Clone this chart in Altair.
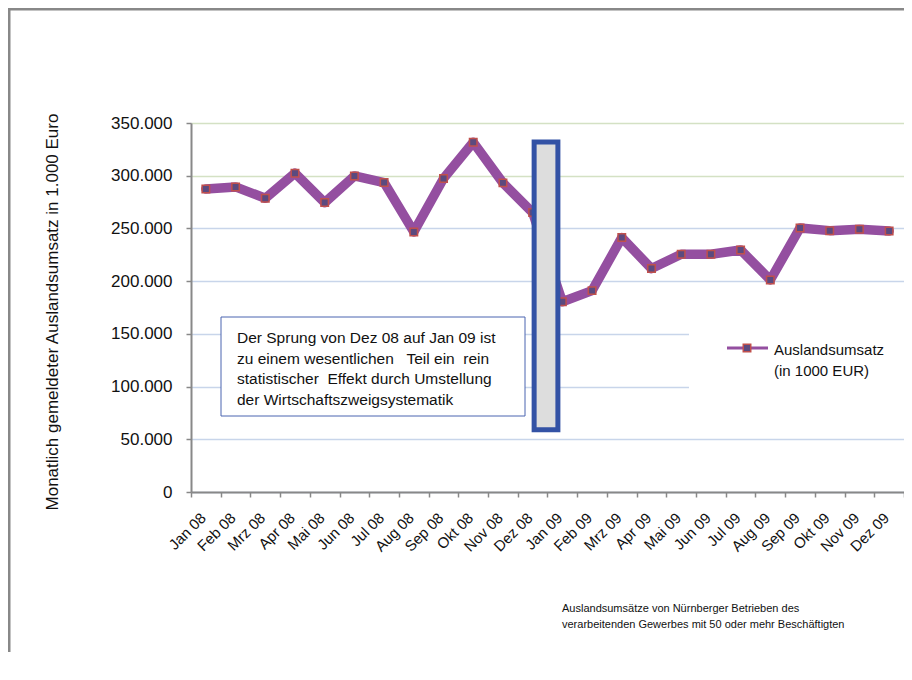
import altair as alt
import pandas as pd

months = ["Jan 08", "Feb 08", "Mrz 08", "Apr 08", "Mai 08", "Jun 08", "Jul 08", "Aug 08",
          "Sep 08", "Okt 08", "Nov 08", "Dez 08", "Jan 09", "Feb 09", "Mrz 09", "Apr 09",
          "Mai 09", "Jun 09", "Jul 09", "Aug 09", "Sep 09", "Okt 09", "Nov 09", "Dez 09"]
values = [287500, 289400, 278600, 302400, 274500, 299800, 293500, 246700,
          297300, 331800, 293200, 265000, 180500, 191000, 241300, 211900,
          225500, 225500, 229600, 201100, 250500, 247900, 249200, 247600]

box_months = ["Dez 08", "Jan 09"]
box_values = [332000, 59000]

note_lines = ["Der Sprung von Dez 08 auf Jan 09 ist",
              "zu einem wesentlichen \u00a0 Teil ein \u00a0rein",
              "statistischer \u00a0Effekt durch Umstellung",
              "der Wirtschaftszweigsystematik"]
legend_lines = ["Auslandsumsatz", "(in 1000 EUR)"]
caption_lines = ["Auslandsumsätze von Nürnberger Betrieben des",
                 "verarbeitenden Gewerbes mit 50 oder mehr Beschäftigten"]
y_title = "Monatlich gemeldeter Auslandsumsatz in 1.000 Euro"

df = pd.DataFrame({"Monat": months, "Wert": values})
box_df = pd.DataFrame({"m1": [box_months[0]], "m2": [box_months[1]],
                       "v1": [box_values[0]], "v2": [box_values[1]]})
one = pd.DataFrame({"a": [0]})

W, H = 713, 369
FONT = "Liberation Sans"

xscale = alt.Scale(type="band", domain=months, paddingInner=0, paddingOuter=0)
yscale = alt.Scale(domain=[0, 350000], nice=False)

x_enc = alt.X("Monat:N", scale=xscale, sort=months, title=None,
              axis=alt.Axis(tickBand="extent", labelAngle=-45, labelAlign="right",
                            labelBaseline="top", labelFontSize=15, labelPadding=13,
                            labelOffset=-8,
                            labelColor="#111", domainColor="#888", domainWidth=2,
                            tickColor="#888", tickWidth=1.5, tickSize=5, grid=False,
                            labelFont=FONT))
y_enc = alt.Y("Wert:Q", scale=yscale, title=y_title,
              axis=alt.Axis(values=[0, 50000, 100000, 150000, 200000, 250000, 300000, 350000],
                            labelExpr="replace(format(datum.value, ','), ',', '.')",
                            labelFontSize=17, labelPadding=14, labelColor="#111",
                            domainColor="#888", domainWidth=2, tickColor="#888",
                            tickWidth=1.5, tickSize=5,
                            grid=True, gridWidth=1.5,
                            gridColor=alt.expr("datum.value >= 300000 ? '#d4e1c4' : '#c8d5ea'"),
                            titleFontSize=17, titleFontWeight="normal", titleColor="#111",
                            titleX=-139, titleY=H / 2 + 4, titleAngle=270,
                            titleAlign="center", titleBaseline="middle", titleFont=FONT,
                            labelFont=FONT))

# annotation boxes (white backgrounds)
note_box = alt.Chart(one).mark_rect(fill="white", stroke="#4a64b0", strokeWidth=1).encode(
    x=alt.value(30), x2=alt.value(334), y=alt.value(194), y2=alt.value(293))
legend_box = alt.Chart(one).mark_rect(fill="white").encode(
    x=alt.value(498), x2=alt.value(713), y=alt.value(195), y2=alt.value(280))

line = alt.Chart(df).mark_line(color="#944fa0", strokeWidth=9.5, strokeCap="round",
                               strokeJoin="round").encode(x=x_enc, y=y_enc)
pts = alt.Chart(df).mark_point(shape="square", filled=True, size=56, fill="#5b4a7f",
                               stroke="#c0504d", strokeWidth=1.5, opacity=1).encode(
    x=alt.X("Monat:N", scale=xscale, sort=months), y=alt.Y("Wert:Q", scale=yscale))

jump_box = alt.Chart(box_df).mark_rect(fill="#dddddd", stroke="#3352a5", strokeWidth=5).encode(
    x=alt.X("m1:N", scale=xscale, bandPosition=0.55),
    x2=alt.X2("m2", bandPosition=0.35),
    y=alt.Y("v1:Q", scale=yscale), y2="v2:Q")

note_text = alt.Chart(one).mark_text(text=note_lines, align="left", baseline="alphabetic",
                                     fontSize=15.5, lineHeight=20.5, font=FONT, color="#111").encode(
    x=alt.value(46), y=alt.value(220))

leg_rule = alt.Chart(one).mark_rule(color="#944fa0", strokeWidth=3).encode(
    x=alt.value(536), x2=alt.value(577), y=alt.value(225))
leg_pt = alt.Chart(one).mark_point(shape="square", filled=True, size=56, fill="#5b4a7f",
                                   stroke="#c0504d", strokeWidth=1.5, opacity=1).encode(
    x=alt.value(556), y=alt.value(225))
leg_text = alt.Chart(one).mark_text(text=legend_lines, align="left", baseline="alphabetic",
                                    fontSize=15, lineHeight=21, font=FONT, color="#111").encode(
    x=alt.value(583), y=alt.value(232))

caption = alt.Chart(one).mark_text(text=caption_lines, align="left", baseline="alphabetic",
                                   fontSize=11, lineHeight=16, font=FONT, color="#111").encode(
    x=alt.value(371), y=alt.value(489))

frame_top = alt.Chart(one).mark_rule(color="#888", strokeWidth=3).encode(
    x=alt.value(-183), x2=alt.value(713), y=alt.value(-114))
frame_left = alt.Chart(one).mark_rule(color="#888", strokeWidth=3).encode(
    x=alt.value(-182), y=alt.value(-115), y2=alt.value(530))

chart = alt.layer(
    note_box, legend_box, line, pts, jump_box, note_text,
    leg_rule, leg_pt, leg_text, caption, frame_top, frame_left
).properties(
    width=W, height=H,
    autosize=alt.AutoSizeParams(type="none"),
    padding={"left": 183, "top": 115, "right": 0, "bottom": 160},
).configure_view(stroke=None).configure(font=FONT)

chart.save("out.html", embed_options={"renderer": "svg", "actions": False})
